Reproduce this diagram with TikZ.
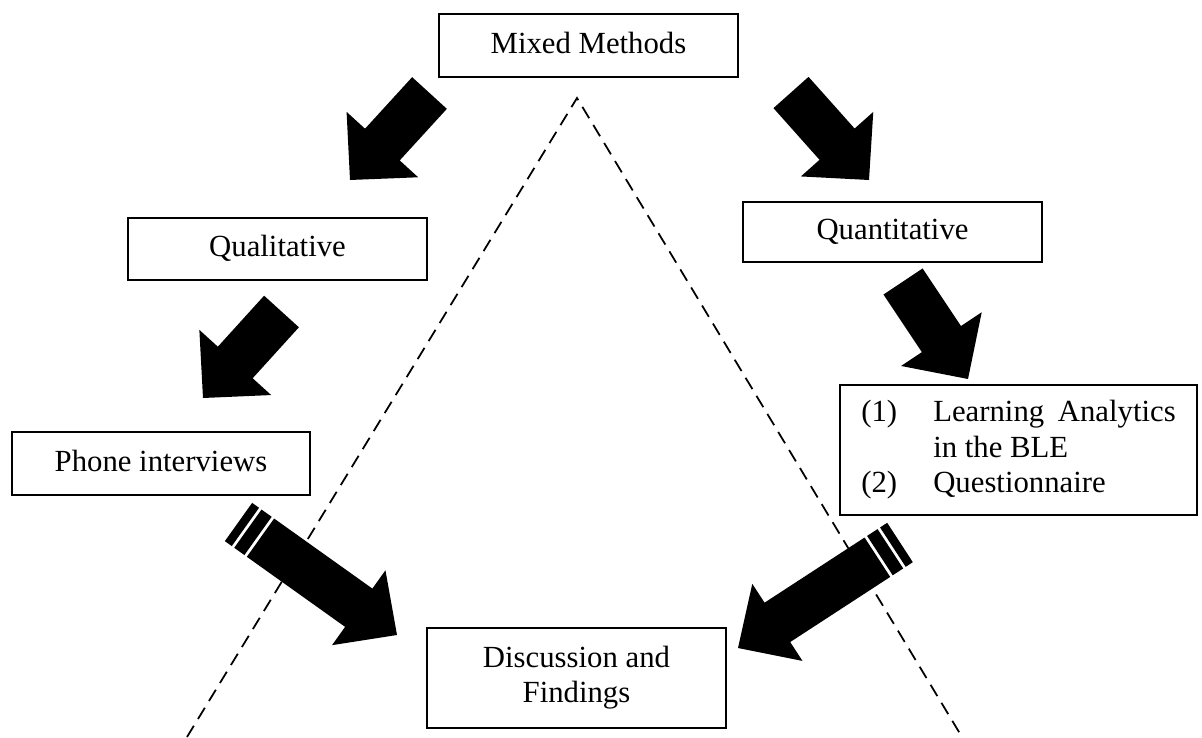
\documentclass[tikz,border=0pt]{standalone}
\usepackage{fontspec}
\setmainfont{Liberation Serif}
\usepackage{tikz}
\usetikzlibrary{calc}

\tikzset{
  box/.style={draw, line width=1pt, fill=white, minimum width=5.98cm, minimum height=1.26cm, inner sep=2pt},
  oneline/.style={text height=12.3pt, text depth=3.6pt},
  guide/.style={line width=1pt, dash pattern=on 7.5pt off 4.5pt}
}

%block arrow: tail, tip, half head width, head length
\newcommand{\fatarrow}[4]{%
  \coordinate (fab) at ($(#2)!#4!(#1)$);
  \fill ($(#1)!0.47cm!90:(#2)$) -- ($(fab)!0.47cm!-90:(#1)$) -- ($(fab)!#3!-90:(#1)$) -- (#2)
    -- ($(fab)!#3!90:(#1)$) -- ($(fab)!0.47cm!90:(#1)$) -- ($(#1)!0.47cm!-90:(#2)$) -- cycle;
}
%stripe at the tail: tail, tip, from, to
\newcommand{\tailstripe}[4]{%
  \coordinate (tsa) at ($(#1)!#3!(#2)$);
  \coordinate (tsb) at ($(#1)!#4!(#2)$);
  \fill ($(tsa)!0.47cm!90:(#2)$) -- ($(tsb)!0.47cm!90:(#2)$) -- ($(tsb)!0.47cm!-90:(#2)$) -- ($(tsa)!0.47cm!-90:(#2)$) -- cycle;
}

\begin{document}
\begin{tikzpicture}[x=0.02cm,y=0.02cm,font=\fontsize{17.5}{20}\selectfont]
\useasboundingbox (0,0) rectangle (1202,737);
%dashed triangle
\coordinate (apex) at (577,639);
\coordinate (lfoot) at (187,0);
\coordinate (rfoot) at (962,0);
\draw[guide] (lfoot) -- (apex) -- (rfoot);
%boxes
\node[box, oneline] (mixed) at (588.5,691.5) {Mixed Methods};
\node[box, oneline, minimum height=1.24cm] (quali) at (277.5,488) {Qualitative};
\node[box, oneline, minimum height=1.2cm] (quanti) at (892.5,505) {Quantitative};
\node[box, oneline, minimum width=5.96cm] (phone) at (161,273.5) {Phone interviews};
\node[box, minimum width=7.14cm, minimum height=2.6cm] (tools) at (1018.5,287) {%
  \begin{tabular}{@{}p{41pt}@{}p{138pt}@{}}
  (1) & Learning Analytics in the BLE\\
  (2) & Questionnaire
  \end{tabular}};
\node[box, minimum height=2cm, align=center] (findings) at (576.5,59) {Discussion and\\Findings};
%arrows from mixed methods
\coordinate (ml-t) at (429.5,644); \coordinate (ml-p) at (350,557);
\fatarrow{ml-t}{ml-p}{0.97cm}{0.96cm}
\coordinate (mr-t) at (791,644.5); \coordinate (mr-p) at (869,557);
\fatarrow{mr-t}{mr-p}{0.97cm}{0.96cm}
%arrows to the methods
\coordinate (ql-t) at (281.5,425.5); \coordinate (ql-p) at (203,339);
\fatarrow{ql-t}{ql-p}{0.97cm}{0.96cm}
\coordinate (qr-t) at (903,455.5); \coordinate (qr-p) at (968,358);
\fatarrow{qr-t}{qr-p}{0.97cm}{0.96cm}
%striped arrows to findings
\coordinate (sl-t) at (238.5,215); \coordinate (sl-p) at (397,102);
\tailstripe{sl-t}{sl-p}{0cm}{0.17cm}
\tailstripe{sl-t}{sl-p}{0.23cm}{0.48cm}
\coordinate (sl-s) at ($(sl-t)!0.54cm!(sl-p)$);
\fatarrow{sl-s}{sl-p}{0.92cm}{0.94cm}
\coordinate (sr-t) at (900,194.5); \coordinate (sr-p) at (738,89);
\tailstripe{sr-t}{sr-p}{0cm}{0.17cm}
\tailstripe{sr-t}{sr-p}{0.23cm}{0.48cm}
\coordinate (sr-s) at ($(sr-t)!0.54cm!(sr-p)$);
\fatarrow{sr-s}{sr-p}{0.92cm}{0.94cm}
\end{tikzpicture}
\end{document}
